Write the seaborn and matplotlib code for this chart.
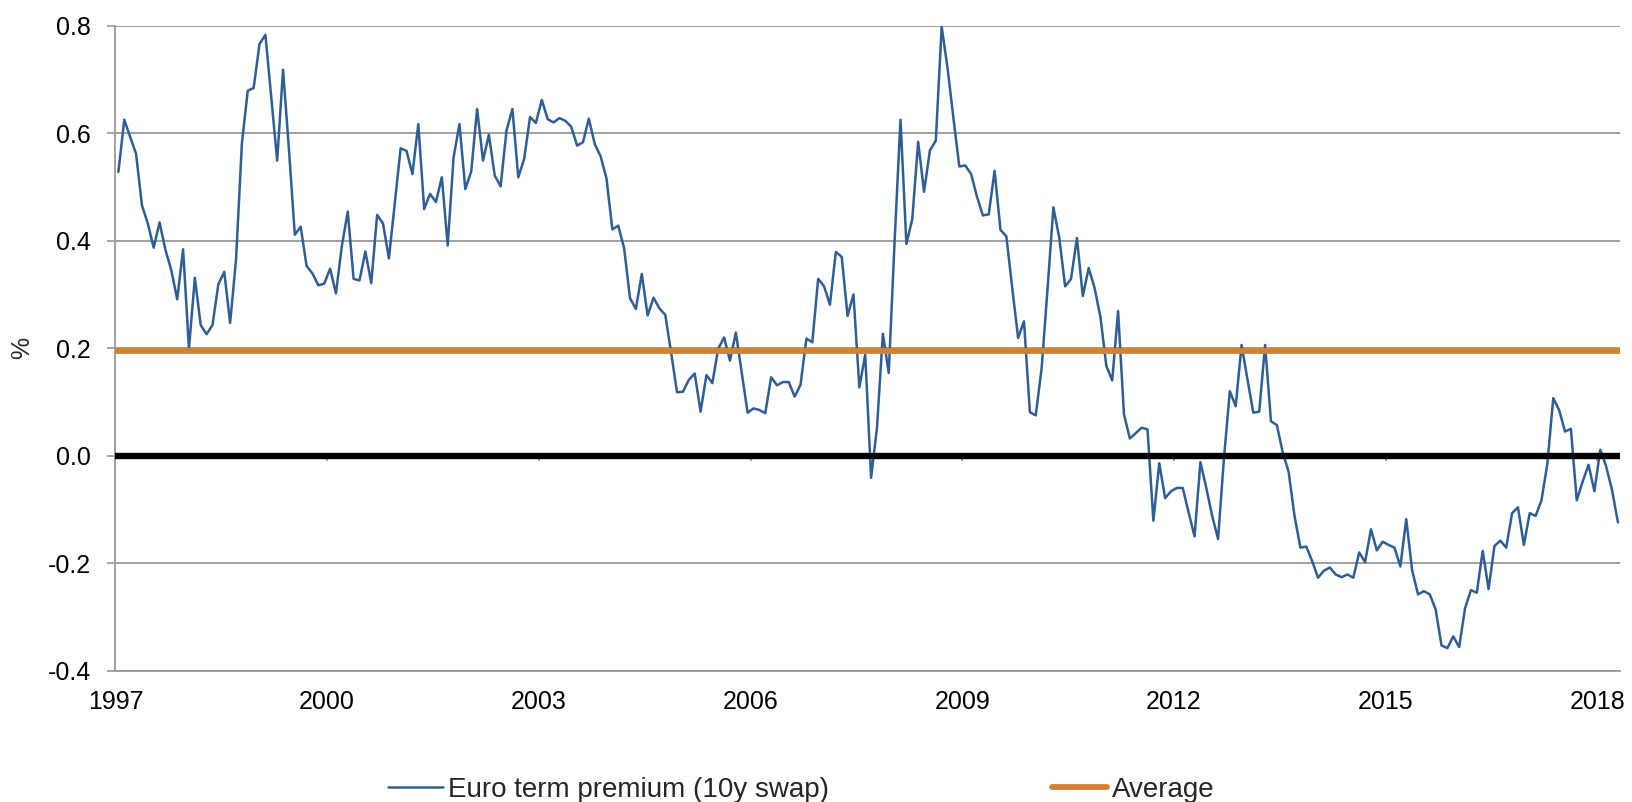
"""
Euro term premium (10y swap) vs its long-run average.
"""

import numpy as np
import pandas as pd
import matplotlib
matplotlib.use("Agg")
import matplotlib.pyplot as plt
import seaborn as sns
from matplotlib.ticker import FormatStrFormatter

# monthly values, Jan 1997 - Apr 2018 (%)
tp_1997_2000 = [
    0.528, 0.625, 0.593, 0.562, 0.466, 0.432, 0.387, 0.434, 0.383, 0.345, 0.291, 0.384,
    0.199, 0.331, 0.243, 0.226, 0.243, 0.319, 0.342, 0.247, 0.364, 0.581, 0.679, 0.684,
    0.766, 0.783, 0.666, 0.549, 0.718, 0.570, 0.411, 0.426, 0.353, 0.339, 0.317, 0.320,
    0.348, 0.302, 0.390, 0.454, 0.329, 0.326, 0.380, 0.321, 0.448, 0.432, 0.367, 0.470,
]
tp_2001_2004 = [
    0.572, 0.567, 0.524, 0.617, 0.459, 0.487, 0.472, 0.518, 0.391, 0.555, 0.617, 0.496,
    0.529, 0.645, 0.549, 0.597, 0.521, 0.501, 0.605, 0.645, 0.518, 0.552, 0.630, 0.619,
    0.662, 0.626, 0.620, 0.628, 0.623, 0.612, 0.577, 0.583, 0.627, 0.580, 0.557, 0.516,
    0.421, 0.428, 0.386, 0.293, 0.273, 0.338, 0.261, 0.294, 0.274, 0.262, 0.191, 0.118,
]
tp_2005_2008 = [
    0.119, 0.141, 0.153, 0.082, 0.150, 0.135, 0.199, 0.220, 0.177, 0.229, 0.155, 0.080,
    0.088, 0.085, 0.079, 0.146, 0.131, 0.137, 0.137, 0.110, 0.132, 0.218, 0.211, 0.329,
    0.315, 0.281, 0.379, 0.370, 0.260, 0.300, 0.127, 0.188, -0.041, 0.052, 0.227, 0.154,
    0.400, 0.625, 0.394, 0.440, 0.584, 0.491, 0.568, 0.586, 0.798, 0.721, 0.628, 0.538,
]
tp_2009_2012 = [
    0.540, 0.524, 0.482, 0.447, 0.449, 0.530, 0.420, 0.408, 0.312, 0.219, 0.250, 0.081,
    0.075, 0.163, 0.310, 0.462, 0.405, 0.315, 0.329, 0.405, 0.297, 0.349, 0.312, 0.258,
    0.167, 0.140, 0.269, 0.077, 0.032, 0.042, 0.052, 0.049, -0.121, -0.014, -0.079, -0.066,
    -0.060, -0.060, -0.106, -0.150, -0.012, -0.060, -0.112, -0.155, -0.005, 0.120, 0.092, 0.206,
]
tp_2013_2016 = [
    0.142, 0.080, 0.082, 0.206, 0.064, 0.057, 0.006, -0.030, -0.112, -0.171, -0.169, -0.196,
    -0.227, -0.214, -0.208, -0.221, -0.226, -0.221, -0.227, -0.180, -0.198, -0.137, -0.176, -0.160,
    -0.166, -0.171, -0.206, -0.118, -0.213, -0.258, -0.252, -0.258, -0.286, -0.353, -0.358, -0.336,
    -0.356, -0.284, -0.250, -0.255, -0.177, -0.248, -0.168, -0.158, -0.171, -0.107, -0.096, -0.166,
]
tp_2017_2018 = [
    -0.107, -0.112, -0.083, -0.015, 0.107, 0.085, 0.045, 0.050, -0.083, -0.048, -0.017, -0.066,
    0.011, -0.020, -0.064, -0.124,
]
average_tp = 0.195

year_ticks = [1997, 2000, 2003, 2006, 2009, 2012, 2015, 2018]
y_ticks = [-0.4, -0.2, 0.0, 0.2, 0.4, 0.6, 0.8]

BLUE = "#2F5E96"
ORANGE = "#D5822F"
GRID = "#989898"

values = np.concatenate([tp_1997_2000, tp_2001_2004, tp_2005_2008,
                         tp_2009_2012, tp_2013_2016, tp_2017_2018])
dates = pd.date_range("1997-01-01", periods=len(values), freq="MS")
df = pd.DataFrame({
    "year": dates.year + (dates.month - 0.5) / 12.0,
    "premium": values,
})

sns.set_theme(style="white")
plt.rcParams["font.family"] = ["Liberation Sans", "DejaVu Sans"]
plt.rcParams["axes.unicode_minus"] = False

fig = plt.figure(figsize=(16.33, 8.02), dpi=100)
ax = fig.add_axes([0.0707, 0.1637, 0.9213, 0.8043])

sns.lineplot(data=df, x="year", y="premium", ax=ax, color=BLUE, linewidth=1.8,
             label="Euro term premium (10y swap)", zorder=3)
ax.axhline(average_tp, color=ORANGE, linewidth=4.2, label="Average", zorder=4)
ax.axhline(0, color="black", linewidth=4.6, zorder=5)

ax.set_xlim(1997, 2018.32)
ax.set_ylim(-0.4, 0.8)
ax.set_yticks(y_ticks)
ax.set_xticks(year_ticks)
ax.set_xticklabels([str(y) for y in year_ticks])
ax.yaxis.set_major_formatter(FormatStrFormatter("%.1f"))
ax.grid(axis="y", color=GRID, linewidth=1.3)
ax.grid(axis="x", visible=False)
ax.set_axisbelow(True)

for side in ["top", "right"]:
    ax.spines[side].set_visible(False)
for side in ["left", "bottom"]:
    ax.spines[side].set_color(GRID)
    ax.spines[side].set_linewidth(1.3)

ax.tick_params(axis="y", length=5.5, width=1.2, color=GRID, pad=12,
               labelsize=18, labelcolor="black", left=True)
ax.tick_params(axis="x", length=0, pad=14, labelsize=18, labelcolor="black")

# small tick marks hanging off the zero line
zero_axis = ax.secondary_xaxis(1 / 3)
zero_axis.set_xticks(year_ticks)
zero_axis.tick_params(axis="x", direction="out", length=3.5, width=1.3, color=GRID,
                      labelbottom=False, labeltop=False, bottom=True, top=False)
zero_axis.spines["bottom"].set_visible(False)
zero_axis.spines["top"].set_visible(False)

ax.set_xlabel("")
ax.set_ylabel("%", fontsize=18, labelpad=10)

ax.legend(loc="center", bbox_to_anchor=(0.4907, 0.015), bbox_transform=fig.transFigure,
          ncol=2, frameon=False, fontsize=20, handlelength=1.98, handletextpad=0.18,
          columnspacing=8.0, borderpad=0)

fig.savefig("out.png", dpi=100)
